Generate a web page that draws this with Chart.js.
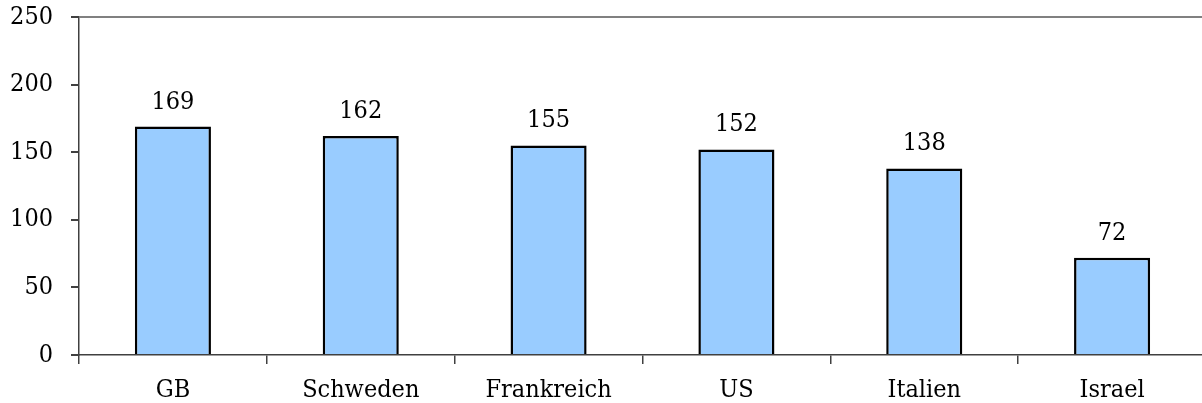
<!DOCTYPE html>
<html>
<head>
<meta charset="utf-8">
<script src="https://cdn.jsdelivr.net/npm/chart.js@4"></script>
<style>
  html, body { margin: 0; padding: 0; background: #fff; overflow: hidden; }
  #wrap { width: 1206px; height: 403px; position: relative; }
</style>
</head>
<body>
<div id="wrap"><canvas id="c"></canvas></div>
<script>
const categories = ["GB", "Schweden", "Frankreich", "US", "Italien", "Israel"];
const values = [169, 162, 155, 152, 138, 72];
const yTicks = [0, 50, 100, 150, 200, 250];

const FONT = "'DejaVu Serif Condensed', 'DejaVu Serif', serif";
const FSIZE = 25;

const valueLabels = {
  id: 'valueLabels',
  afterDatasetsDraw(chart) {
    const ctx = chart.ctx;
    const meta = chart.getDatasetMeta(0);
    ctx.save();
    ctx.font = FSIZE + "px " + FONT;
    ctx.fillStyle = "#000";
    ctx.textAlign = "center";
    ctx.textBaseline = "alphabetic";
    meta.data.forEach((bar, i) => {
      ctx.fillText(String(values[i]), bar.x, bar.y - 18);
    });
    ctx.restore();
  }
};

new Chart(document.getElementById('c'), {
  type: 'bar',
  data: {
    labels: categories,
    datasets: [{
      data: values,
      backgroundColor: '#99CCFF',
      borderColor: '#000000',
      borderWidth: 2.5,
      categoryPercentage: 1,
      barPercentage: 0.405
    }]
  },
  options: {
    responsive: true,
    maintainAspectRatio: false,
    animation: false,
    devicePixelRatio: 1,
    layout: { padding: 0 },
    plugins: { legend: { display: false }, tooltip: { enabled: false } },
    scales: {
      x: {
        offset: true,
        afterFit(scale) { scale.height = 48; scale.paddingLeft = 0; scale.paddingRight = 0; },
        grid: {
          offset: true,
          drawOnChartArea: false,
          drawTicks: true,
          tickLength: 9,
          color: '#404040',
          lineWidth: 1.5
        },
        border: { display: true, color: '#404040', width: 1.5 },
        ticks: {
          color: '#000',
          font: { family: FONT, size: FSIZE },
          padding: 11,
          maxRotation: 0
        }
      },
      y: {
        min: 0,
        max: 250,
        afterBuildTicks(scale) { scale.ticks = yTicks.map(v => ({ value: v })); },
        afterFit(scale) { scale.width = 79; scale.paddingTop = 17; scale.paddingBottom = 0; },
        grid: {
          drawOnChartArea: true,
          drawTicks: true,
          tickLength: 8,
          tickColor: '#404040',
          color: (c) => (c.tick && c.tick.value === 250) ? '#808080' : 'rgba(0,0,0,0)',
          lineWidth: 2
        },
        border: { display: true, color: '#404040', width: 1.5 },
        ticks: {
          color: '#000',
          font: { family: FONT, size: FSIZE },
          padding: 18
        }
      }
    }
  },
  plugins: [valueLabels]
});
</script>
</body>
</html>
